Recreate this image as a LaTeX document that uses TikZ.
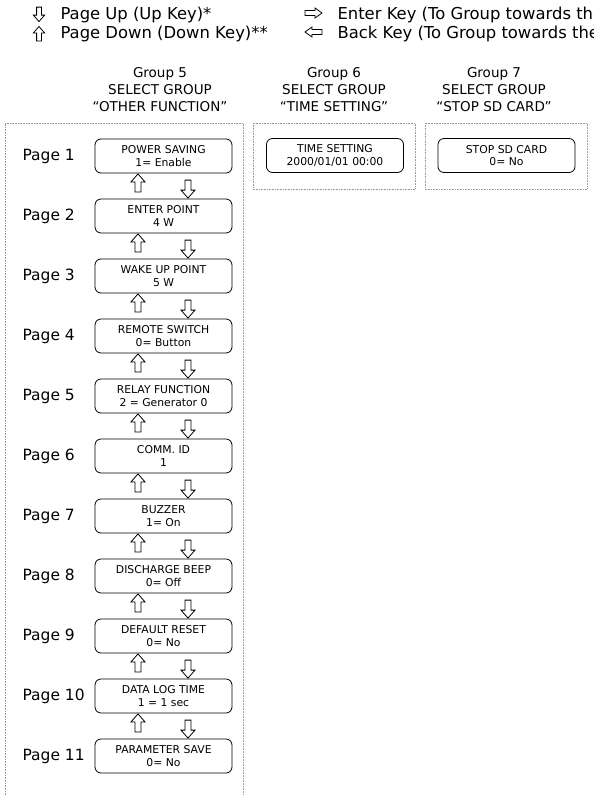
\documentclass[tikz,border=0pt]{standalone}
\usepackage{fontspec}
\setmainfont{DejaVu Sans}
\usetikzlibrary{calc}

\tikzset{
  grpbox/.style={draw=black!40, densely dotted, line width=0.6pt},
  pagebox/.style={draw, rounded corners=6pt, line width=0.8pt, minimum width=137pt,
    minimum height=34pt, inner sep=0pt, align=center, font=\fontsize{10.8}{12.5}\selectfont},
  grptitle/.style={anchor=north, align=center, font=\fontsize{13.5}{17}\selectfont},
  pagelabel/.style={anchor=west, font=\fontsize{15.5}{18}\selectfont},
  legendtxt/.style={anchor=base west, font=\fontsize{16.4}{19}\selectfont},
  keyline/.style={line width=0.8pt, fill=white, line join=miter},
  upkey/.pic={\draw[keyline] (0,0) -- (7,8) -- (3,8) -- (3,18) -- (-3,18) -- (-3,8) -- (-7,8) -- cycle;},
  downkey/.pic={\draw[keyline] (0,0) -- (7,-8) -- (3,-8) -- (3,-18) -- (-3,-18) -- (-3,-8) -- (-7,-8) -- cycle;},
  rightkey/.pic={\draw[keyline] (0,0) -- (-7,5) -- (-7,2.5) -- (-17,2.5) -- (-17,-2.5) -- (-7,-2.5) -- (-7,-5) -- cycle;},
  leftkey/.pic={\draw[keyline] (0,0) -- (7,5) -- (7,2.5) -- (17,2.5) -- (17,-2.5) -- (7,-2.5) -- (7,-5) -- cycle;}
}

\begin{document}
\begin{tikzpicture}[x=1pt, y=-1pt]
	\useasboundingbox (0,0) rectangle (594,796);
	\clip (0,0) rectangle (594,796);
	% key legend
	\pic[scale=0.8] at (39,21.5) {downkey};
	\pic[scale=0.8] at (39,26.5) {upkey};
	\node[legendtxt] (kup) at (57,19) {Page Up (Up Key)*};
	\node[legendtxt] (kdown) at (57,38) {Page Down (Down Key)**};
	\pic at (322,13) {rightkey};
	\pic at (305,32) {leftkey};
	\node[legendtxt] (kenter) at (334,19) {Enter Key (To Group towards the};
	\node[legendtxt] (kback) at (334,38) {Back Key (To Group towards the};
	% group headers
	\node[grptitle] (t5) at (160,64) {Group 5\\SELECT GROUP\\“OTHER FUNCTION”};
	\node[grptitle] (t6) at (334,64) {Group 6\\SELECT GROUP\\“TIME SETTING”};
	\node[grptitle] (t7) at (494,64) {Group 7\\SELECT GROUP\\“STOP SD CARD”};
	% dotted group frames
	\draw[grpbox] (5,830) -- (5,123) -- (243,123) -- (243,830);
	\draw[grpbox] (253,123) rectangle (415,189);
	\draw[grpbox] (425,123) rectangle (587,189);
	% group 6 and 7
	\node[pagebox] (g6) at (335,155.5) {TIME SETTING\\2000/01/01 00:00};
	\node[pagebox] (g7) at (506.5,155.5) {STOP SD CARD\\0= No};
	% group 5 pages
	\foreach \i/\ttl/\val in {1/POWER SAVING/1= Enable, 2/ENTER POINT/4 W,
	    3/WAKE UP POINT/5 W, 4/REMOTE SWITCH/0= Button, 5/RELAY FUNCTION/2 = Generator 0,
	    6/COMM. ID/1, 7/BUZZER/1= On, 8/DISCHARGE BEEP/0= Off, 9/DEFAULT RESET/0= No,
	    10/DATA LOG TIME/1 = 1 sec, 11/PARAMETER SAVE/0= No} {
	  \node[pagebox] (p\i) at (163.5,{156+60*(\i-1)}) {\ttl\\\val};
	  \node[pagelabel] (lbl\i) at (19,{156+60*(\i-1)}) {Page \i};
	}
	% up / down keys between pages
	\foreach \i [evaluate=\i as \j using int(\i+1)] in {1,...,10} {
	  \pic at ($(p\i.south)+(-25.5,0.5)$) {upkey};
	  \pic at ($(p\j.north)+(24.5,-0.5)$) {downkey};
	}
\end{tikzpicture}
\end{document}
